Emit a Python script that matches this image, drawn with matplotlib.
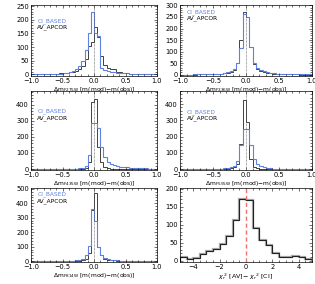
import numpy as np
import matplotlib
matplotlib.use('Agg')
import matplotlib.pyplot as plt
from matplotlib.ticker import MultipleLocator

# bin edges: -1.0 .. 1.0, step 0.05 (40 bins); index 19 = [-0.05, 0], 20 = [0, 0.05]
edges = np.round(np.arange(-1.0, 1.0001, 0.05), 3)

filters = ['F275W', 'F336W', 'F435W', 'F555W', 'F814W']

ci_275 = [0, 0, 1, 1, 1, 1, 2, 2, 3, 3,
          4, 6, 8, 12, 18, 30, 50, 90, 150, 228,
          150, 140, 22, 16, 12, 10, 8, 6, 5, 4,
          4, 3, 3, 3, 2, 2, 3, 2, 2, 2]
av_275 = [1, 1, 1, 1, 1, 2, 2, 3, 3, 4,
          5, 6, 8, 10, 13, 20, 32, 58, 105, 120,
          175, 135, 67, 35, 25, 18, 20, 10, 7, 5,
          4, 3, 2, 2, 2, 1, 1, 1, 1, 0]

ci_336 = [0, 0, 0, 0, 1, 1, 1, 1, 2, 2,
          2, 3, 3, 6, 10, 14, 24, 50, 115, 262,
          248, 121, 50, 28, 18, 14, 10, 7, 5, 4,
          3, 3, 2, 2, 1, 1, 1, 1, 1, 1]
av_336 = [0, 0, 0, 0, 0, 1, 1, 1, 1, 2,
          2, 2, 3, 5, 9, 12, 22, 52, 150, 271,
          250, 121, 48, 26, 16, 12, 9, 6, 4, 3,
          2, 2, 1, 1, 1, 1, 0, 0, 0, 0]

ci_435 = [0, 0, 0, 0, 0, 0, 0, 0, 0, 0,
          0, 1, 1, 2, 3, 4, 8, 19, 88, 285,
          285, 254, 140, 77, 46, 31, 23, 19, 14, 12,
          10, 9, 8, 7, 6, 5, 4, 3, 3, 2]
av_435 = [0, 0, 0, 0, 0, 0, 0, 0, 0, 0,
          0, 0, 0, 1, 1, 2, 3, 8, 46, 415,
          435, 135, 46, 15, 6, 3, 2, 1, 1, 0,
          0, 0, 0, 0, 0, 0, 0, 0, 0, 0]

ci_555 = [0, 0, 0, 0, 0, 0, 0, 0, 0, 1,
          1, 2, 3, 4, 6, 10, 21, 52, 145, 245,
          245, 145, 62, 31, 17, 10, 6, 4, 3, 2,
          2, 1, 1, 1, 1, 0, 0, 0, 0, 0]
av_555 = [0, 0, 0, 0, 0, 0, 0, 0, 0, 0,
          0, 0, 1, 1, 2, 4, 12, 31, 155, 425,
          290, 60, 10, 4, 2, 1, 1, 0, 0, 0,
          0, 0, 0, 0, 0, 0, 0, 0, 0, 0]

ci_814 = [0, 0, 0, 0, 0, 1, 1, 1, 1, 2,
          2, 3, 3, 4, 6, 10, 18, 41, 103, 360,
          280, 100, 40, 20, 12, 8, 10, 6, 4, 3,
          3, 2, 2, 2, 1, 1, 1, 1, 1, 1]
av_814 = [0, 0, 0, 0, 0, 0, 0, 0, 0, 0,
          1, 1, 1, 2, 3, 4, 7, 18, 53, 350,
          470, 100, 40, 18, 10, 6, 5, 3, 2, 2,
          1, 1, 1, 1, 0, 0, 0, 0, 0, 0]

# chi2 difference histogram, -5 .. 5 step 0.5
chi_edges = np.arange(-5.0, 5.0001, 0.5)
chi_counts = [10, 5, 6, 17, 28, 32, 47, 68, 112, 172,
              168, 91, 58, 43, 21, 9, 10, 12, 9, 5]

ci_list = [ci_275, ci_336, ci_435, ci_555, ci_814]
av_list = [av_275, av_336, av_435, av_555, av_814]
ytops = [254, 302, 485, 480, 505]
ysteps = [50, 50, 100, 100, 100]
# legend label heights (axes fraction) per panel
leg_y = [(0.775, 0.69), (0.90, 0.82), (0.75, 0.66), (0.73, 0.66), (0.92, 0.82)]

blue = '#5f82e0'
W, H = 315, 284

plt.rcParams['font.family'] = 'DejaVu Sans'
plt.rcParams['font.size'] = 4.6

fig = plt.figure(figsize=(W / 100, H / 100), dpi=100)

# axes boxes in pixels: left, top, right, bottom
boxes = [(31, 5, 157, 76), (180, 5, 312, 76),
         (31, 91, 157, 170), (180, 91, 312, 170),
         (31, 188, 157, 262), (180, 188, 312, 262)]


def make_ax(box):
    l, t, r, b = box
    ax = fig.add_axes([l / W, (H - b) / H, (r - l) / W, (b - t) / H])
    ax.tick_params(which='both', direction='in', top=True, right=True,
                   width=0.4, pad=1.5, labelsize=4.8)
    ax.tick_params(which='major', length=2.5)
    ax.tick_params(which='minor', length=1.3)
    for s in ax.spines.values():
        s.set_linewidth(0.5)
    return ax


for i in range(5):
    ax = make_ax(boxes[i])
    ax.stairs(av_list[i], edges, color='#222222', lw=0.6)
    ax.stairs(ci_list[i], edges, color=blue, lw=0.8)
    ax.axvline(0, color='#555555', lw=0.5, ls=(0, (1, 1)))
    ax.set_xlim(-1, 1)
    ax.set_ylim(-6, ytops[i])
    ax.xaxis.set_minor_locator(MultipleLocator(0.1))
    ax.yaxis.set_major_locator(MultipleLocator(ysteps[i]))
    ax.yaxis.set_minor_locator(MultipleLocator(ysteps[i] / 5))
    ax.set_xticks([-1, -0.5, 0, 0.5, 1])
    ax.set_xticklabels(['\u22121.0', '\u22120.5', '0.0', '0.5', '1.0'])
    ax.set_xlabel(r'$\Delta$m$_{\mathrm{%s}}$ [m(mod)$-$m(obs)]' % filters[i],
                  fontsize=4.3, labelpad=1)
    ax.text(0.05, leg_y[i][0], 'CI_BASED', color=blue,
            transform=ax.transAxes, fontsize=4.2, va='center')
    ax.text(0.05, leg_y[i][1], 'AV_APCOR', color='black',
            transform=ax.transAxes, fontsize=4.2, va='center')

ax = make_ax(boxes[5])
ax.stairs(chi_counts, chi_edges, color='#aaaaaa', lw=1.6)
ax.stairs(chi_counts, chi_edges, color='#222222', lw=0.8)
ax.axvline(0, color='#f07070', lw=1.0, ls=(0, (3, 2)))
ax.set_xlim(-5, 5)
ax.set_ylim(-4, 202)
ax.xaxis.set_minor_locator(MultipleLocator(0.5))
ax.yaxis.set_major_locator(MultipleLocator(50))
ax.yaxis.set_minor_locator(MultipleLocator(10))
ax.set_xticks([-4, -2, 0, 2, 4])
ax.set_xticklabels(['\u22124', '\u22122', '0', '2', '4'])
ax.set_xlabel(r'$\chi_r^{\ 2}$ [AV]$-$ $\chi_r^{\ 2}$ [CI]', fontsize=4.6,
              labelpad=1)

fig.savefig('out.png', dpi=100)
